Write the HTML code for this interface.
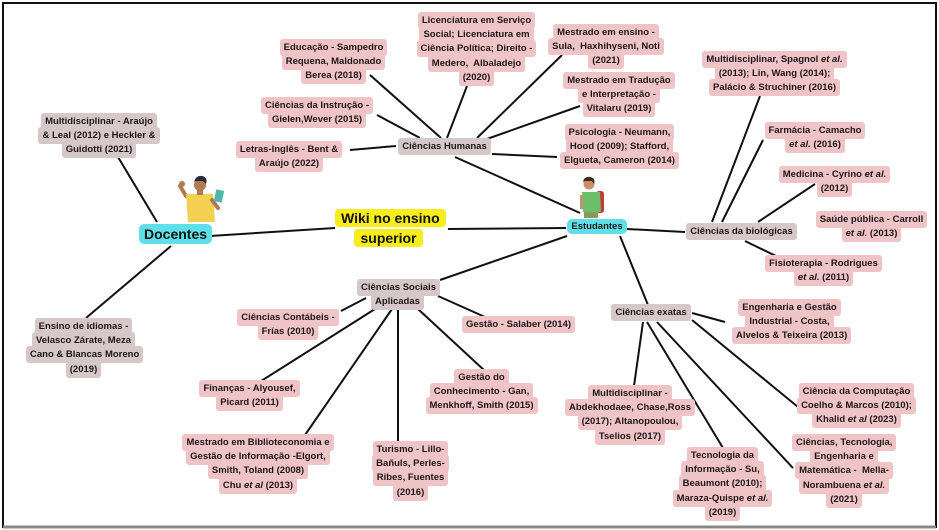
<!DOCTYPE html>
<html><head><meta charset="utf-8">
<style>
html,body{margin:0;padding:0;background:#fff;}
#c{position:relative;width:939px;height:530px;overflow:hidden;background:#fff;font-family:"Liberation Sans",Arial,sans-serif;}
svg{position:absolute;left:0;top:0;}
.n{position:absolute;text-align:center;font-weight:bold;font-size:9.5px;line-height:14.2px;color:#1e1616;white-space:nowrap;}
.n span{background:#efc4c6;padding:3px 4px;border-radius:3px;-webkit-box-decoration-break:clone;box-decoration-break:clone;}
.g span{background:#d6c8c9;}
.big{font-size:14px;line-height:20px;color:#111;}
.cy span{background:#5fe0e8;padding:2px 5px;border-radius:5px;}
.ye span{background:#f7ec1e;padding:1px 6px;border-radius:4px;}
i{font-style:italic;}
</style></head><body>
<div id="c">
<svg width="939" height="530">
<rect x="3" y="3" width="933" height="524" fill="none" stroke="#111" stroke-width="2"/>
<line x1="3" y1="527" x2="936" y2="527" stroke="#888" stroke-width="3"/>
<g stroke="#111" stroke-width="2" fill="none">
<line x1="210" y1="236" x2="335" y2="228"/>
<line x1="157" y1="222" x2="118" y2="157"/>
<line x1="171" y1="246" x2="86" y2="318"/>
<line x1="448" y1="229" x2="566" y2="228"/>
<line x1="455" y1="157" x2="580" y2="213"/>
<line x1="441" y1="138" x2="370" y2="75"/>
<line x1="447" y1="138" x2="467" y2="86"/>
<line x1="477" y1="138" x2="562" y2="55"/>
<line x1="484" y1="140" x2="580" y2="106"/>
<line x1="420" y1="138" x2="377" y2="115"/>
<line x1="350" y1="150" x2="396" y2="146"/>
<line x1="492" y1="154" x2="557" y2="157"/>
<line x1="627" y1="229" x2="685" y2="232"/>
<line x1="712" y1="222" x2="760" y2="96"/>
<line x1="722" y1="222" x2="763" y2="140"/>
<line x1="758" y1="222" x2="815" y2="184"/>
<line x1="745" y1="241" x2="776" y2="256"/>
<line x1="567" y1="236" x2="440" y2="280"/>
<line x1="620" y1="236" x2="648" y2="305"/>
<line x1="366" y1="298" x2="341" y2="311"/>
<line x1="375" y1="309" x2="258" y2="383"/>
<line x1="392" y1="309" x2="305" y2="435"/>
<line x1="398" y1="309" x2="398" y2="442"/>
<line x1="418" y1="309" x2="485" y2="371"/>
<line x1="438" y1="296" x2="485" y2="317"/>
<line x1="692" y1="313" x2="725" y2="322"/>
<line x1="692" y1="320" x2="798" y2="407"/>
<line x1="657" y1="322" x2="793" y2="468"/>
<line x1="647" y1="322" x2="723" y2="448"/>
<line x1="643" y1="322" x2="634" y2="386"/>
</g>
<g>
<path d="M186 196 L180 186" stroke="#b07a52" stroke-width="4" stroke-linecap="round"/>
<circle cx="182" cy="184" r="3" fill="#b07a52"/>
<path d="M186 194 L213 194 L215 222 L188 222 Z" fill="#f3cf52"/>
<rect x="197" y="189" width="6" height="6" fill="#b07a52"/>
<circle cx="200" cy="185" r="6" fill="#b07a52"/>
<path d="M194 182 Q196 175 202 176 Q208 177 206 184 L203 181 L196 181Z" fill="#2a2a3a"/>
<path d="M212 200 L218 208" stroke="#b07a52" stroke-width="4" stroke-linecap="round"/>
<rect x="215" y="190" width="8" height="12" fill="#4fb7b0" transform="rotate(12 219 196)"/>
</g>
<g>
<rect x="596" y="191" width="8" height="22" rx="3" fill="#c23a35"/>
<path d="M582 192 L600 192 L601 212 L583 212 Z" fill="#6cbf6a"/>
<rect x="584" y="212" width="14" height="6" fill="#8a9a5a"/>
<circle cx="589" cy="184" r="5.5" fill="#c8906a"/>
<path d="M583 182 Q584 176 590 177 Q596 178 594 184 L592 181 L585 181Z" fill="#3a2a20"/>
<rect x="580" y="195" width="3" height="14" fill="#c8906a"/>
</g>
</svg>

<div class="n g" style="left:35px;top:115px;width:128px;"><span>Multidisciplinar - Araújo<br>&amp; Leal (2012) e Heckler &amp;<br>Guidotti (2021)</span></div>
<div class="n g" style="left:26px;top:320px;width:115px;"><span>Ensino de idiomas -<br>Velasco Zárate, Meza<br>Cano &amp; Blancas Moreno<br>(2019)</span></div>
<div class="n big cy" style="left:139px;top:224px;width:71px;"><span>Docentes</span></div>
<div class="n big ye" style="left:335px;top:208px;width:107px;"><span>Wiki no ensino<br>superior</span></div>

<div class="n" style="left:278px;top:41px;width:111px;"><span>Educação - Sampedro<br>Requena, Maldonado<br>Berea (2018)</span></div>
<div class="n" style="left:413px;top:14px;width:127px;"><span>Licenciatura em Serviço<br>Social; Licenciatura em<br>Ciência Política; Direito -<br>Medero,&nbsp; Albaladejo<br>(2020)</span></div>
<div class="n" style="left:547px;top:26px;width:118px;"><span>Mestrado em ensino -<br>Sula,&nbsp; Haxhihyseni, Noti<br>(2021)</span></div>
<div class="n" style="left:559px;top:74px;width:120px;"><span>Mestrado em Tradução<br>e Interpretação -<br>Vitalaru (2019)</span></div>
<div class="n" style="left:259px;top:99px;width:116px;"><span>Ciências da Instrução -<br>Gielen,Wever (2015)</span></div>
<div class="n" style="left:233px;top:143px;width:112px;"><span>Letras-Inglês - Bent &amp;<br>Araújo (2022)</span></div>
<div class="n g" style="left:396px;top:140px;width:97px;"><span>Ciências Humanas</span></div>
<div class="n" style="left:557px;top:126px;width:125px;"><span>Psicologia - Neumann,<br>Hood (2009); Stafford,<br>Elgueta, Cameron (2014)</span></div>

<div class="n cy" style="left:566px;top:220px;width:62px;"><span style="padding:2px 4px;">Estudantes</span></div>
<div class="n g" style="left:685px;top:225px;width:113px;"><span>Ciências da biológicas</span></div>
<div class="n" style="left:698px;top:53px;width:153px;"><span>Multidisciplinar, Spagnol <i>et al.</i><br>(2013); Lin, Wang (2014);<br>Palácio &amp; Struchiner (2016)</span></div>
<div class="n" style="left:762px;top:124px;width:106px;"><span>Farmácia - Camacho<br><i>et al.</i> (2016)</span></div>
<div class="n" style="left:776px;top:168px;width:117px;"><span>Medicina - Cyrino <i>et al.</i><br>(2012)</span></div>
<div class="n" style="left:813px;top:213px;width:117px;"><span>Saúde pública - Carroll<br><i>et al.</i> (2013)</span></div>
<div class="n" style="left:763px;top:257px;width:121px;"><span>Fisioterapia - Rodrigues<br><i>et al.</i> (2011)</span></div>

<div class="n g" style="left:357px;top:281px;width:81px;"><span>Ciências Sociais<br>Aplicadas</span></div>
<div class="n" style="left:236px;top:311px;width:104px;"><span>Ciências Contábeis -<br>Frías (2010)</span></div>
<div class="n" style="left:460px;top:318px;width:117px;"><span>Gestão - Salaber (2014)</span></div>
<div class="n" style="left:198px;top:382px;width:103px;"><span>Finanças - Alyousef,<br>Picard (2011)</span></div>
<div class="n" style="left:422px;top:371px;width:119px;"><span>Gestão do<br>Conhecimento - Gan,<br>Menkhoff, Smith (2015)</span></div>
<div class="n" style="left:177px;top:436px;width:162px;"><span>Mestrado em Biblioteconomia e<br>Gestão de Informação -Elgort,<br>Smith, Toland (2008)<br>Chu <i>et al</i> (2013)</span></div>
<div class="n" style="left:371px;top:443px;width:79px;"><span>Turismo - Lillo-<br>Bañuls, Perles-<br>Ribes, Fuentes<br>(2016)</span></div>

<div class="n g" style="left:610px;top:306px;width:82px;"><span>Ciências exatas</span></div>
<div class="n" style="left:732px;top:301px;width:115px;"><span>Engenharia e Gestão<br>Industrial - Costa,<br>Alvelos &amp; Teixeira (2013)</span></div>
<div class="n" style="left:563px;top:387px;width:134px;"><span>Multidisciplinar -<br>Abdekhodaee, Chase,Ross<br>(2017); Altanopoulou,<br>Tselios (2017)</span></div>
<div class="n" style="left:670px;top:449px;width:105px;"><span>Tecnologia da<br>Informação - Su,<br>Beaumont (2010);<br>Maraza-Quispe <i>et al.</i><br>(2019)</span></div>
<div class="n" style="left:795px;top:385px;width:123px;"><span>Ciência da Computação<br>Coelho &amp; Marcos (2010);<br>Khalid <i>et al</i> (2023)</span></div>
<div class="n" style="left:792px;top:436px;width:104px;"><span>Ciências, Tecnologia,<br>Engenharia e<br>Matemática -&nbsp; Mella-<br>Norambuena <i>et al.</i><br>(2021)</span></div>
</div>
</body></html>
